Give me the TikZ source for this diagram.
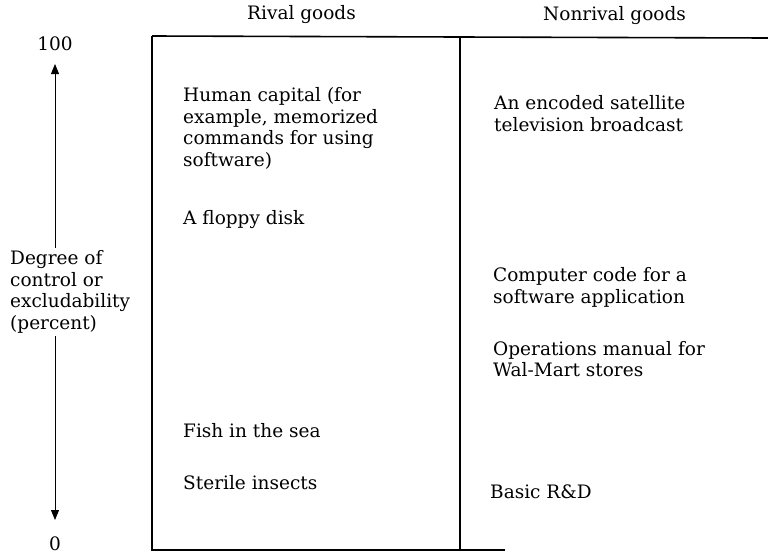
\documentclass[tikz,border=0pt]{standalone}
\usepackage{fontspec}
\setmainfont{DejaVu Serif}
\usetikzlibrary{arrows.meta}
\begin{document}
\begin{tikzpicture}[x=1pt,y=-1pt,
  txt/.style={anchor=west,align=left,inner sep=0pt,font=\fontsize{18.5}{21.5}\selectfont},
  frame/.style={line width=1.6pt},
  axis/.style={line width=0.9pt,{Triangle[width=8pt,length=10pt]}-{Triangle[width=8pt,length=10pt]}}]
\useasboundingbox (0,0) rectangle (768,555);
% frame
\coordinate (tl) at (152,36);
\coordinate (tm) at (460,37);
\coordinate (tr) at (768,38);
\coordinate (bl) at (152,550);
\coordinate (bm) at (460,550);
\coordinate (br) at (505,550);
\draw[frame] (tl) -- (tr);
\draw[frame] (tl) -- (bl) -- (br);
\draw[frame] (tm) -- (bm);
% headers
\node[txt] (rival) at (247,15) {Rival goods};
\node[txt] (nonrival) at (543,16) {Nonrival goods};
% axis
\node[txt,anchor=center] (hundred) at (55,44) {100};
\node[txt,anchor=center] (zero) at (55,544) {0};
\coordinate (atop) at (55,64);
\coordinate (abot) at (55,520);
\draw[axis] (abot) -- (atop);
\node[txt,fill=white,inner ysep=3pt] (degree) at (10,292) {Degree of\\control or\\excludability\\(percent)};
% rival items
\node[txt] (human) at (183,128.5) {Human capital (for\\example, memorized\\commands for using\\software)};
\node[txt] (floppy) at (183,220) {A floppy disk};
\node[txt] (fish) at (183,431) {Fish in the sea};
\node[txt] (sterile) at (183,483) {Sterile insects};
% nonrival items
\node[txt] (satellite) at (494,113.5) {An encoded satellite\\television broadcast};
\node[txt] (code) at (493,287.5) {Computer code for a\\software application};
\node[txt] (manual) at (493,359) {Operations manual for\\Wal-Mart stores};
\node[txt] (rd) at (490,492) {Basic R\&D};
\end{tikzpicture}
\end{document}
